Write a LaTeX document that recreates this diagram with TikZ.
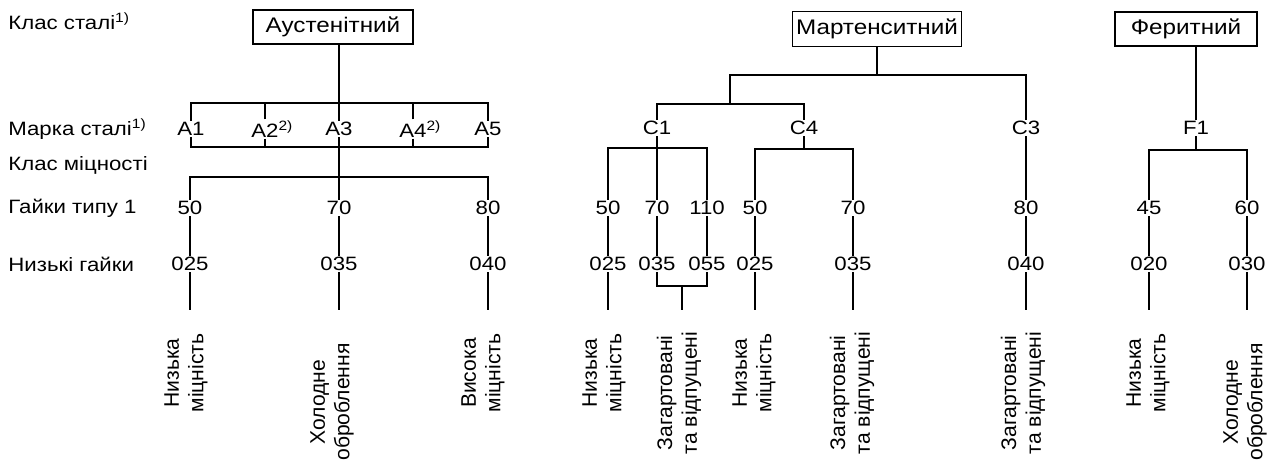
\documentclass[tikz,border=0pt]{standalone}
\usepackage{fontspec}
\setmainfont{Liberation Sans}[FakeStretch=1.15]
\newfontfamily\plainsans{Liberation Sans}
\usepackage{tikz}
\usetikzlibrary{positioning, calc}

\begin{document}
\begin{tikzpicture}[
    x=0.02cm, y=-0.02cm,
    font=\fontsize{11pt}{13.5pt}\selectfont,
    class_box/.style={draw, line width=0.8pt, inner xsep=2pt, inner ysep=0pt, minimum height=0.68cm, font=\fontsize{12pt}{14pt}\selectfont},
    grade_node/.style={inner sep=0.5pt},
    row_label/.style={anchor=west, inner sep=0pt},
    use_text/.style={rotate=90, align=center, inner sep=0pt, font=\plainsans\fontsize{12pt}{14pt}\selectfont},
    link/.style={line width=0.8pt, draw=black}
]
\path[use as bounding box, fill=white] (0,0) rectangle (1281,463);

% Row captions
\node[row_label] (cap_class) at (8,21) {Клас сталі\textsuperscript{1)}};
\node[row_label] (cap_grade) at (8,129) {Марка сталі\textsuperscript{1)}};
\node[row_label] (cap_prop) at (8,165) {Клас міцності};
\node[row_label] (cap_nut) at (8,208) {Гайки типу 1};
\node[row_label] (cap_low) at (8,264) {Низькі гайки};

% Helper levels
\coordinate (aus_top) at (0,103);
\coordinate (aus_bot) at (0,147);
\coordinate (aus_str) at (0,177);
\coordinate (mar_mid) at (0,75);
\coordinate (mar_left) at (730,75);
\coordinate (c14_bar) at (0,104);
\coordinate (c1_bar) at (0,148);
\coordinate (c4_bar) at (0,149);
\coordinate (qt_bar) at (0,286);
\coordinate (qt_mid) at (682,286);
\coordinate (f1_bar) at (0,150);
\coordinate (foot) at (0,310);

% Austenitic column
\node[class_box, minimum width=3.2cm] (aus) at (333,27) {Аустенітний};
\node[grade_node] (a1) at (191,129) {A1};
\node[grade_node] (a2) at (265,129) {A2\rlap{\textsuperscript{2)}}};
\node[grade_node] (a3) at (339,129) {A3};
\node[grade_node] (a4) at (413,129) {A4\rlap{\textsuperscript{2)}}};
\node[grade_node] (a5) at (488,129) {A5};
\node[grade_node] (s50) at (190,208) {50};
\node[grade_node] (s70) at (339,208) {70};
\node[grade_node] (s80) at (488,208) {80};
\node[grade_node] (l025) at (190,264) {025};
\node[grade_node] (l035) at (339,264) {035};
\node[grade_node] (l040) at (488,264) {040};
\node[use_text] (u_low1) at (186,373) {Низька\\міцність};
\node[use_text] (u_cold1) at (332,402) {Холодне\\оброблення};
\node[use_text] (u_high) at (483,373) {Висока\\міцність};

\draw[link] (aus.south -| a3) -- (a3.north);
\draw[link] (a1.north) -- (a1.north |- aus_top) -- (a5.north |- aus_top) -- (a5.north);
\foreach \g in {a2,a4}
  \draw[link] (\g.north) -- (\g.north |- aus_top);
\draw[link] (a1.south) -- (a1.south |- aus_bot) -- (a5.south |- aus_bot) -- (a5.south);
\foreach \g in {a2,a4}
  \draw[link] (\g.south) -- (\g.south |- aus_bot);
\draw[link] (a3.south) -- (s70.north);
\draw[link] (s50.north) -- (s50.north |- aus_str) -- (s80.north |- aus_str) -- (s80.north);
\draw[link] (s50) -- (l025);
\draw[link] (s70) -- (l035);
\draw[link] (s80) -- (l040);
\foreach \g in {l025,l035,l040}
  \draw[link] (\g.south) -- (\g.south |- foot);

% Martensitic column
\node[class_box, minimum width=3.38cm, minimum height=0.7cm, inner xsep=1pt] (mar) at (877,29) {Мартенситний};
\node[grade_node] (c1) at (657,128) {C1};
\node[grade_node] (c4) at (804,128) {C4};
\node[grade_node] (c3) at (1026,128) {C3};
\node[grade_node] (m50) at (608,208) {50};
\node[grade_node] (m70) at (657,208) {70};
\node[grade_node] (m110) at (707,208) {110};
\node[grade_node] (n50) at (755,208) {50};
\node[grade_node] (n70) at (853,208) {70};
\node[grade_node] (c80) at (1026,208) {80};
\node[grade_node] (m025) at (608,264) {025};
\node[grade_node] (m035) at (657,264) {035};
\node[grade_node] (m055) at (707,264) {055};
\node[grade_node] (n025) at (755,264) {025};
\node[grade_node] (n035) at (853,264) {035};
\node[grade_node] (c040) at (1026,264) {040};
\node[use_text] (u_low2) at (604,373) {Низька\\міцність};
\node[use_text] (u_qt1) at (679,393) {Загартовані\\та відпущені};
\node[use_text] (u_low3) at (754,373) {Низька\\міцність};
\node[use_text] (u_qt2) at (852,393) {Загартовані\\та відпущені};
\node[use_text] (u_qt3) at (1023,393) {Загартовані\\та відпущені};

\draw[link] (mar.south) -- (mar.south |- mar_mid);
\draw[link] (c3.north) -- (c3.north |- mar_mid) -- (mar_left) -- (mar_left |- c14_bar);
\draw[link] (c1.north) -- (c1.north |- c14_bar) -- (c4.north |- c14_bar) -- (c4.north);
\draw[link] (c1.south) -- (m70.north);
\draw[link] (m50.north) -- (m50.north |- c1_bar) -- (m110.north |- c1_bar) -- (m110.north);
\draw[link] (c4.south) -- (c4.south |- c4_bar);
\draw[link] (n50.north) -- (n50.north |- c4_bar) -- (n70.north |- c4_bar) -- (n70.north);
\draw[link] (c3.south) -- (c80.north);
\draw[link] (m50) -- (m025);
\draw[link] (m70) -- (m035);
\draw[link] (m110) -- (m055);
\draw[link] (n50) -- (n025);
\draw[link] (n70) -- (n035);
\draw[link] (c80) -- (c040);
\draw[link] (m035.south) -- (m035.south |- qt_bar) -- (m055.south |- qt_bar) -- (m055.south);
\draw[link] (qt_mid) -- (qt_mid |- foot);
\foreach \g in {m025,n025,n035,c040}
  \draw[link] (\g.south) -- (\g.south |- foot);

% Ferritic column
\node[class_box, minimum width=2.84cm] (fer) at (1186,29) {Феритний};
\node[grade_node] (f1) at (1196,128) {F1};
\node[grade_node] (f45) at (1149,208) {45};
\node[grade_node] (f60) at (1247,208) {60};
\node[grade_node] (f020) at (1149,264) {020};
\node[grade_node] (f030) at (1247,264) {030};
\node[use_text] (u_low4) at (1148,373) {Низька\\міцність};
\node[use_text] (u_cold2) at (1245,402) {Холодне\\оброблення};

\draw[link] (fer.south -| f1) -- (f1.north);
\draw[link] (f1.south) -- (f1.south |- f1_bar);
\draw[link] (f45.north) -- (f45.north |- f1_bar) -- (f60.north |- f1_bar) -- (f60.north);
\draw[link] (f45) -- (f020);
\draw[link] (f60) -- (f030);
\foreach \g in {f020,f030}
  \draw[link] (\g.south) -- (\g.south |- foot);

\end{tikzpicture}
\end{document}
